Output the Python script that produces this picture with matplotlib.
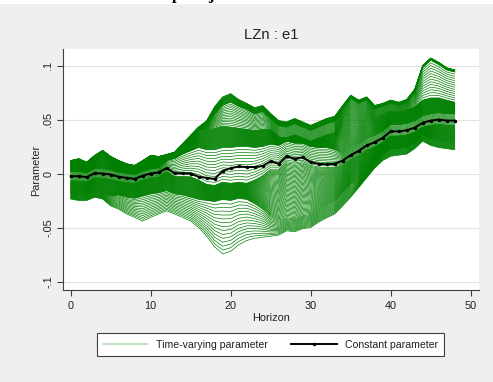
import numpy as np
import matplotlib
matplotlib.use("Agg")
import matplotlib.pyplot as plt
from matplotlib.lines import Line2D
from matplotlib.patches import Rectangle

plt.rcParams['font.family'] = ['Liberation Sans', 'DejaVu Sans']

horizon = np.arange(49)

constant = [-0.0025, -0.0025, -0.0034, 0.0003, 0.0, -0.001, -0.003, -0.004, -0.005, -0.002,
            0.0, 0.001, 0.005, 0.0003, 0.0003, 0.0, -0.003, -0.004, -0.005, 0.0025,
            0.005, 0.0065, 0.006, 0.006, 0.007, 0.0115, 0.009, 0.016, 0.0137, 0.015,
            0.0105, 0.009, 0.0085, 0.009, 0.012, 0.017, 0.021, 0.026, 0.029, 0.033,
            0.039, 0.039, 0.040, 0.0425, 0.047, 0.049, 0.050, 0.049, 0.049]

# key time-varying paths (bottom to top)
tv_lower = [-.0236, -.025, -.025, -.022, -.0236, -.030, -.033, -.0375, -.0406, -.044,
            -.0406, -.0375, -.0345, -.0375, -.0406, -.044, -.050, -.058, -.068, -.0745,
            -.072, -.066, -.062, -.060, -.059, -.058, -.057, -.053, -.054, -.051,
            -.050, -.045, -.041, -.0375, -.030, -.022, -.013, -.004, .005, .012,
            .016, .017, .018, .023, .030, .026, .024, .023, .022]
tv_low_mid = [-.019, -.020, -.020, -.017, -.019,
              -.021, -.020, -.022, -.023, -.021, -.019, -.018, -.016, -.019, -.020, -.022, -.024,
              -.025, -.026, -.024, -.025, -.023, -.024, -.028, -.033,
              -.040, -.043, -.041, -.042, -.039, -.038, -.033, -.029, -.0255, -.018, -.010,
              -.007, .002, .011, .018, .022, .023, .024, .029, .036, .032, .030, .029, .028]
tv_below = [-.0065, -.0065, -.0074, -.0037, -.004, -.005, -.007, -.008, -.009, -.006, -.004, -.003,
            .002, -.0027, -.0027, -.003, -.006,
            -.010, -.011, -.008, -.009, -.008, -.009, -.006, -.002,
            .004, .004, .011, .0097, .011, .0075, .006, .0055, .006,
            .008, .013, .017, .022, .025, .029, .035, .035, .036, .0385, .043, .045, .046, .045, .045]
tv_above = [.0015, .0015, .0006, .0043, .004, .003, .001, 0.0, -.001, .002, .004, .005,
            .012, .014, .018, .021, .024,
            .022, .022, .024, .024, .025, .025, .024, .025,
            .027, .026, .030, .028, .028, .025, .024, .024, .022,
            .018, .023, .027, .032, .035, .039, .045, .045, .046, .0485, .053, .055, .056, .055, .055]
tv_up_mid = [.010, .0117, .0085, .0148, .0194, .0138, .010, .007, .0055, .010, .0148, .0138,
             .0157, .0178, .0256, .0334, .041,
             .040, .042, .044, .043, .042, .041, .040, .041,
             .041, .034, .033, .036, .033, .030, .033, .036, .038,
             .051, .058, .056, .059, .053, .055, .058, .057, .059, .062,
             .068, .070, .070, .068, .066]
tv_high = [.011, .0127, .0095, .0158, .0204, .0148, .011, .008, .0065, .011, .0158, .0148,
           .0167, .0188, .0266, .0344, .042,
           .045, .055, .063, .066, .062, .059, .055, .057,
           .0506, .044, .0428, .046, .0428, .0397, .0428, .046, .048,
           .060, .0696, .065, .068, .060, .062, .065, .063, .0656, .075,
           .098, .105, .101, .096, .094]
tv_upper = [.012, .0137, .0105, .0168, .0214, .0158, .012, .009, .0075, .012,
            .0168, .0158, .0177, .0198, .0276, .0354, .043, .049, .062, .071,
            .074, .0686, .065, .061, .063, .0556, .049, .0478, .051, .0478,
            .0447, .0478, .051, .053, .063, .0726, .068, .071, .063, .065,
            .068, .066, .0686, .078, .100, .107, .103, .098, .096]

key_paths = [tv_lower, tv_low_mid, tv_below, tv_above, tv_up_mid, tv_high, tv_upper]
steps = [14, 45, 12, 45, 14, 20]

green = '#008000'
W, H = 493, 382
fig = plt.figure(figsize=(W / 100, H / 100), dpi=100, facecolor='#efefef')
fig.patches.append(Rectangle((0, 1 - 4 / H), 1, 4 / H, transform=fig.transFigure,
                             facecolor='white', edgecolor='none', zorder=0))
fig.text(172 / W, 1 + 1.0 / H, 'p', family='Liberation Serif', weight='bold',
         fontsize=12, va='baseline', ha='left')
fig.text(208 / W, 1 + 1.0 / H, 'j', family='Liberation Serif', weight='bold',
         fontsize=12, va='baseline', ha='left')

ax = fig.add_axes([63 / W, 1 - 289.5 / H, 416 / W, 240.5 / H])
ax.set_facecolor('white')

for k in range(len(key_paths) - 1):
    a = np.array(key_paths[k])
    b = np.array(key_paths[k + 1])
    n = steps[k]
    for i in range(n):
        t = i / n
        ax.plot(horizon, a * (1 - t) + b * t, color=green, lw=0.5, zorder=2)
ax.plot(horizon, tv_upper, color=green, lw=0.5, zorder=2)

ax.plot(horizon, constant, color='black', lw=1.4, marker='o', ms=1.5, zorder=3)

ax.set_xlim(-0.9625, 51.04)
ax.set_ylim(-0.1074, 0.1153)
ax.set_xticks([0, 10, 20, 30, 40, 50])
ax.set_yticks([-0.1, -0.05, 0, 0.05, 0.1])
ax.set_yticklabels(['-.1', '-.05', '0', '.05', '.1'], rotation=90, va='center')
ax.yaxis.grid(True, color='#e3e3e3', lw=0.8)
ax.set_axisbelow(True)
for s in ['top', 'right']:
    ax.spines[s].set_visible(False)
for s in ['left', 'bottom']:
    ax.spines[s].set_color('#404040')
    ax.spines[s].set_linewidth(0.8)
ax.tick_params(direction='out', length=4, width=0.8, color='#404040', labelsize=7.8,
               labelcolor='#202020')
ax.tick_params(axis='y', pad=3)
ax.tick_params(axis='x', pad=4)

fig.text(271 / W, 1 - 35 / H, 'LZn : e1', ha='center', va='center', fontsize=10.6, color='#202020')
fig.text(36 / W, 1 - 170 / H, 'Parameter', rotation=90, ha='center', va='center',
         fontsize=7.8, color='#202020')
fig.text(271 / W, 1 - 318 / H, 'Horizon', ha='center', va='center', fontsize=7.8, color='#202020')

handles = [Line2D([], [], color=green, lw=0.35),
           Line2D([], [], color='black', lw=1.4, marker='o', ms=1.5)]
leg = fig.legend(handles, ['Time-varying parameter', 'Constant parameter'],
                 loc='center', bbox_to_anchor=(270.5 / W, 1 - 344.7 / H), ncol=2,
                 fontsize=7.6, frameon=True, fancybox=False, framealpha=1,
                 edgecolor='#404040', handlelength=4.3, handletextpad=0.75,
                 columnspacing=2.2, borderpad=0.6, borderaxespad=0)
leg.get_frame().set_linewidth(0.8)
for t in leg.get_texts():
    t.set_color('#202020')

fig.savefig('out.png', dpi=100, facecolor=fig.get_facecolor())
